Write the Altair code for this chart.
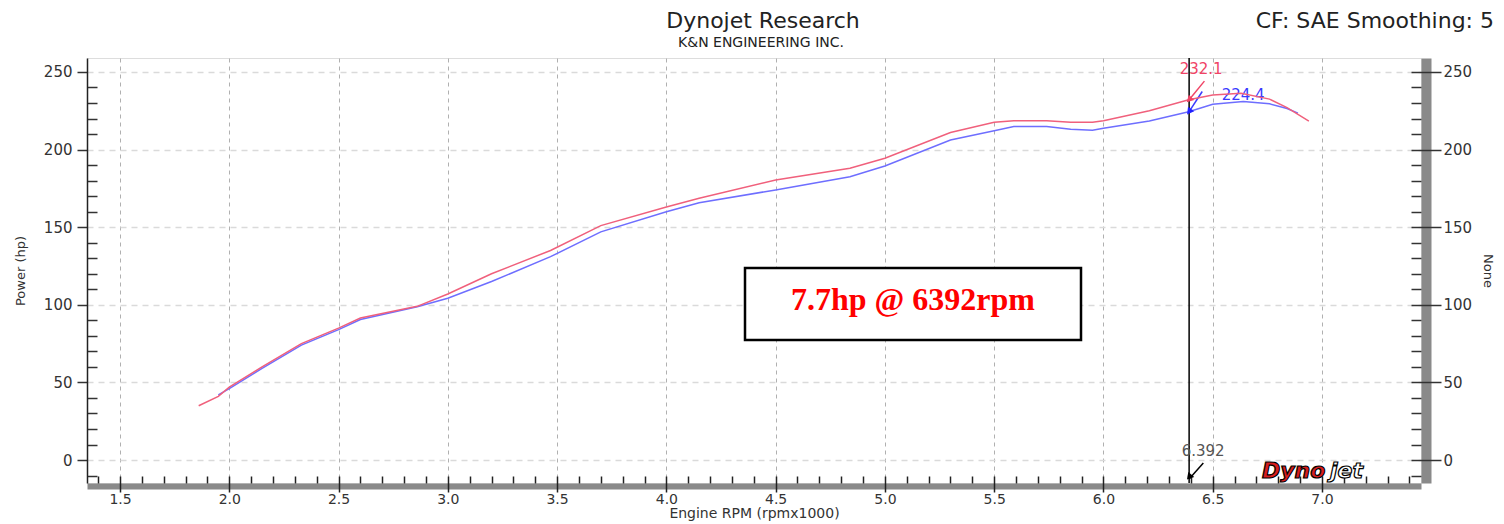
import altair as alt
import pandas as pd

FONT = "DejaVu Sans"

# ---- data read from the dyno sheet (rpm x1000, hp) ----
rpm_red = [1.86, 1.95, 2.00, 2.15, 2.33, 2.50, 2.60, 2.86, 3.00, 3.20, 3.47, 3.70, 4.00, 4.15,
           4.50, 4.84, 5.00, 5.30, 5.50, 5.59, 5.74, 5.85, 5.95, 6.00, 6.21, 6.39, 6.50, 6.63,
           6.76, 6.84, 6.94]
hp_red = [35.0, 41.0, 47.0, 60.0, 75.0, 85.0, 91.5, 99.0, 107.0, 120.0, 135.0, 151.0, 163.0, 168.6,
          180.4, 188.0, 194.4, 211.0, 217.6, 218.6, 218.6, 217.6, 217.6, 218.6, 225.0, 232.1, 235.2, 236.3,
          232.5, 227.0, 218.4]

rpm_blue = [1.95, 2.00, 2.15, 2.33, 2.50, 2.60, 2.86, 3.00, 3.20, 3.47, 3.70, 4.00, 4.15, 4.50,
            4.84, 5.00, 5.30, 5.50, 5.59, 5.74, 5.85, 5.95, 6.00, 6.21, 6.39, 6.50, 6.64, 6.76,
            6.84, 6.89]
hp_blue = [42.0, 46.0, 59.0, 74.0, 84.0, 90.5, 98.8, 104.2, 115.0, 131.0, 147.0, 160.0, 165.8, 174.0,
           182.5, 189.4, 206.2, 212.2, 214.8, 214.8, 213.1, 212.4, 213.7, 218.4, 224.4, 229.2, 230.9, 229.5,
           226.5, 223.5]

cursor_rpm = 6.392
cursor_red = 232.1
cursor_blue = 224.4

x_major = [1.5, 2.0, 2.5, 3.0, 3.5, 4.0, 4.5, 5.0, 5.5, 6.0, 6.5, 7.0]
x_minor = [1.4, 1.6, 1.7, 1.8, 1.9, 2.1, 2.2, 2.3, 2.4, 2.6, 2.7, 2.8, 2.9, 3.1, 3.2, 3.3, 3.4,
           3.6, 3.7, 3.8, 3.9, 4.1, 4.2, 4.3, 4.4, 4.6, 4.7, 4.8, 4.9, 5.1, 5.2, 5.3, 5.4,
           5.6, 5.7, 5.8, 5.9, 6.1, 6.2, 6.3, 6.4, 6.6, 6.7, 6.8, 6.9, 7.1, 7.2, 7.3, 7.4]
y_major = [0, 50, 100, 150, 200, 250]
y_minor = [-10, 10, 20, 30, 40, 60, 70, 80, 90, 110, 120, 130, 140, 160, 170, 180, 190,
           210, 220, 230, 240]

title_text = "Dynojet Research"
subtitle_text = "K&N ENGINEERING INC."
corner_text = "CF: SAE Smoothing: 5"
x_title = "Engine RPM (rpmx1000)"
y_title = "Power (hp)"
y2_title = "None"

df_red = pd.DataFrame({"rpm": rpm_red, "hp": hp_red})
df_blue = pd.DataFrame({"rpm": rpm_blue, "hp": hp_blue})
df_cur = pd.DataFrame({"rpm": [cursor_rpm], "label": [f"{cursor_rpm:.3f}"]})
df_red_pt = pd.DataFrame({"rpm": [cursor_rpm], "hp": [cursor_red], "label": [f"{cursor_red:.1f}"]})
df_blue_pt = pd.DataFrame({"rpm": [cursor_rpm], "hp": [cursor_blue], "label": [f"{cursor_blue:.1f}"]})
diff = cursor_red - cursor_blue
df_note = pd.DataFrame({"label": [f"{diff:.1f}hp @ {int(round(cursor_rpm * 1000))}rpm"]})

RED = "#f0607c"
BLUE = "#6e6eff"

XS = alt.Scale(domain=[1.349, 7.453], nice=False, zero=False)
YS = alt.Scale(domain=[-14.8, 259], nice=False, zero=False)

ax_x_major = alt.Axis(orient="bottom", values=x_major, format=".1f", offset=-7, tickSize=16,
                      tickColor="#222", tickWidth=1.5, domain=False, grid=False, labelPadding=0,
                      labelFlush=False, labelOverlap=False,
                      labelFont=FONT, labelColor="#333", labelFontSize=14,
                      title=x_title, titleFont=FONT, titleFontSize=14, titleFontWeight="normal",
                      titleColor="#333", titlePadding=0)
ax_x_minor = alt.Axis(orient="bottom", values=x_minor, offset=-7, tickSize=7, tickColor="#222",
                      tickWidth=1.5, domain=False, grid=False, labels=False, title=None)
ax_x_grid = alt.Axis(orient="bottom", values=x_major, domain=False, ticks=False, labels=False,
                     grid=True, gridColor="#b0b0b0", gridDash=[4, 4], gridWidth=1, title=None)
ax_x_shadow = alt.Axis(orient="bottom", offset=3, domain=True, domainColor="#8a8a8a", domainWidth=6,
                       ticks=False, labels=False, grid=False, title=None)

ax_y_left = alt.Axis(orient="left", values=y_major, tickSize=10, tickColor="#333", tickWidth=1.5,
                     domain=True, domainColor="#222", domainWidth=1.5, grid=False, labelPadding=5,
                     labelFont=FONT, labelColor="#333", labelFontSize=15,
                     title=y_title, titleFont=FONT, titleFontSize=13, titleFontWeight="normal",
                     titleColor="#333", titlePadding=16)
ax_y_left_minor = alt.Axis(orient="left", values=y_minor, offset=-10, tickSize=10, tickColor="#333",
                           tickWidth=1.5, domain=False, grid=False, labels=False, title=None)
ax_y_right = alt.Axis(orient="right", values=y_major, offset=-10, tickSize=30, tickColor="#333",
                      tickWidth=1.5, domain=False, grid=False, labelPadding=2,
                      labelFont=FONT, labelColor="#333", labelFontSize=15,
                      title=y2_title, titleFont=FONT, titleFontSize=13, titleFontWeight="normal",
                      titleColor="#333", titlePadding=9)
ax_y_right_minor = alt.Axis(orient="right", values=y_minor, offset=-10, tickSize=10, tickColor="#333",
                            tickWidth=1.5, domain=False, grid=False, labels=False, title=None)
ax_y_grid = alt.Axis(orient="left", values=y_major, domain=False, ticks=False, labels=False,
                     grid=True, gridColor="#dadada", gridDash=[6, 5], gridWidth=1.5, title=None)
ax_y_shadow = alt.Axis(orient="right", offset=5, domain=True, domainColor="#8a8a8a", domainWidth=10,
                       ticks=False, labels=False, grid=False, title=None)

red_line = alt.Chart(df_red).mark_line(color=RED, strokeWidth=1.5).encode(
    x=alt.X("rpm:Q", scale=XS, axis=ax_x_major),
    y=alt.Y("hp:Q", scale=YS, axis=ax_y_left),
)
blue_line = alt.Chart(df_blue).mark_line(color=BLUE, strokeWidth=1.5).encode(
    x=alt.X("rpm:Q", scale=XS, axis=ax_x_minor),
    y=alt.Y("hp:Q", scale=YS, axis=ax_y_left_minor),
)

cursor_rule = alt.Chart(df_cur).mark_rule(color="black", strokeWidth=1.5).encode(
    x=alt.X("rpm:Q", scale=XS, axis=None)
)

red_label = alt.Chart(df_red_pt).mark_text(color="#f04466", font=FONT, fontSize=15, dx=12, dy=-31).encode(
    x=alt.X("rpm:Q", scale=XS, axis=ax_x_grid),
    y=alt.Y("hp:Q", scale=YS, axis=ax_y_right),
    text="label:N",
)
blue_label = alt.Chart(df_blue_pt).mark_text(color="#3a3aff", font=FONT, fontSize=15, dx=54, dy=-17).encode(
    x=alt.X("rpm:Q", scale=XS, axis=ax_x_shadow),
    y=alt.Y("hp:Q", scale=YS, axis=ax_y_right_minor),
    text="label:N",
)

red_arrow = alt.Chart(df_red_pt).transform_calculate(
    rpm2="datum.rpm + 0.07", hp2="datum.hp + 12"
).mark_rule(color="#f04466", strokeWidth=1.5).encode(
    x=alt.X("rpm:Q", scale=XS, axis=None),
    y=alt.Y("hp:Q", scale=YS, axis=ax_y_grid),
    x2="rpm2:Q", y2="hp2:Q",
)
blue_arrow = alt.Chart(df_blue_pt).transform_calculate(
    rpm2="datum.rpm + 0.06", hp2="datum.hp + 13"
).mark_rule(color="#3a3aff", strokeWidth=1.5).encode(
    x=alt.X("rpm:Q", scale=XS, axis=None),
    y=alt.Y("hp:Q", scale=YS, axis=ax_y_shadow),
    x2="rpm2:Q", y2="hp2:Q",
)
red_head = alt.Chart(df_red_pt).mark_point(shape="triangle-down", filled=True, color="#f04466",
                                           size=60, angle=45, opacity=1).encode(
    x=alt.X("rpm:Q", scale=XS, axis=None),
    y=alt.Y("hp:Q", scale=YS, axis=None),
)
blue_head = alt.Chart(df_blue_pt).mark_point(shape="triangle-down", filled=True, color="#2020ff",
                                             size=60, angle=37, opacity=1).encode(
    x=alt.X("rpm:Q", scale=XS, axis=None),
    y=alt.Y("hp:Q", scale=YS, axis=None),
)

cur_label = alt.Chart(df_cur).mark_text(color="#555", font=FONT, fontSize=15, dx=14).encode(
    x=alt.X("rpm:Q", scale=XS, axis=None), y=alt.value(393), text="label:N"
)
cur_arrow = alt.Chart(df_cur).transform_calculate(rpm2="datum.rpm + 0.065").mark_rule(
    color="black", strokeWidth=1.5).encode(
    x=alt.X("rpm:Q", scale=XS, axis=None), x2="rpm2:Q", y=alt.value(421), y2=alt.value(405)
)
cur_head = alt.Chart(df_cur).mark_point(shape="triangle-down", filled=True, color="black",
                                        size=60, angle=40, opacity=1).encode(
    x=alt.X("rpm:Q", scale=XS, axis=None), y=alt.value(419)
)

note_box = alt.Chart(df_note).mark_rect(fill="white", stroke="black", strokeWidth=2.5).encode(
    x=alt.value(658), x2=alt.value(994), y=alt.value(210), y2=alt.value(282)
)
note_text = alt.Chart(df_note).mark_text(color="#ff0000", font="Liberation Serif", fontSize=32,
                                         fontWeight="bold", baseline="middle").encode(
    x=alt.value(826), y=alt.value(242), text="label:N"
)

# header texts
head_title = alt.Chart(pd.DataFrame({"label": [title_text]})).mark_text(
    font=FONT, fontSize=22, color="#222", align="center", baseline="alphabetic").encode(
    x=alt.value(676), y=alt.value(-30), text="label:N")
head_sub = alt.Chart(pd.DataFrame({"label": [subtitle_text]})).mark_text(
    font=FONT, fontSize=14, color="#222", align="center", baseline="alphabetic").encode(
    x=alt.value(674), y=alt.value(-11), text="label:N")
corner = alt.Chart(pd.DataFrame({"label": [corner_text]})).mark_text(
    font=FONT, fontSize=22, color="#222", align="right", baseline="alphabetic").encode(
    x=alt.value(1407), y=alt.value(-30), text="label:N")

logo_a = alt.Chart(pd.DataFrame({"label": ["Dyno"]})).mark_text(
    font=FONT, fontSize=22, fontWeight="bold", fontStyle="italic", color="#d81e1e",
    stroke="black", strokeWidth=1.2, align="left", baseline="middle").encode(
    x=alt.value(1175), y=alt.value(413), text="label:N")
logo_b = alt.Chart(pd.DataFrame({"label": ["jet"]})).mark_text(
    font=FONT, fontSize=22, fontWeight="bold", fontStyle="italic", color="white",
    stroke="black", strokeWidth=1.2, align="left", baseline="middle").encode(
    x=alt.value(1243), y=alt.value(413), text="label:N")

chart = alt.layer(
    red_arrow, blue_arrow, red_label, blue_label, blue_line, red_line, cursor_rule,
    red_head, blue_head, cur_label, cur_arrow, cur_head, note_box, note_text,
    head_title, head_sub, corner, logo_a, logo_b,
).resolve_scale(x="shared", y="shared").resolve_axis(x="independent", y="independent").properties(
    width=1334, height=425,
    autosize=alt.AutoSizeParams(type="none"),
    padding={"left": 79, "top": 50, "right": 75, "bottom": 40},
).configure_view(stroke="#444", strokeWidth=1.5).configure(background="white")

chart.save("out.html", embed_options={"renderer": "svg", "actions": False})
